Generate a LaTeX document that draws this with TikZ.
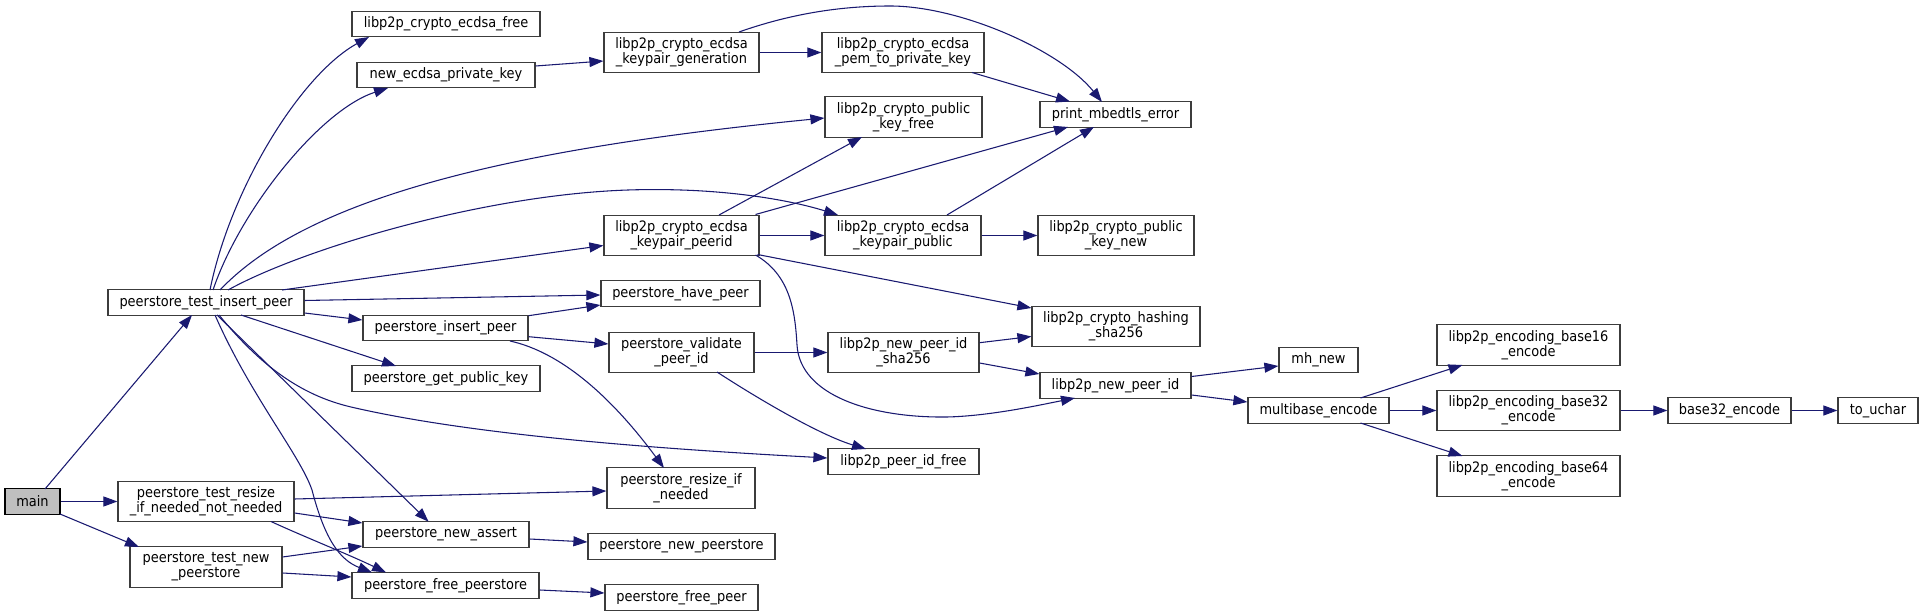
\documentclass[tikz,border=0pt]{standalone}
\usepackage{fontspec}
\setmainfont{DejaVu Sans Condensed}
\usetikzlibrary{arrows.meta,calc}
\definecolor{edgec}{HTML}{191970}
\definecolor{boxc}{HTML}{3C3C3C}
\definecolor{mainc}{HTML}{BFBFBF}
\begin{document}
\begin{tikzpicture}[x=0.75pt,y=-0.75pt,
  fn/.style={draw=boxc, line width=0.9pt, fill=white, inner sep=0pt, align=center,
    font=\fontsize{10.8}{11.25}\selectfont},
  one/.style={fn, minimum width=#1*0.75pt, minimum height=25.5*0.75pt},
  two/.style={fn, minimum width=#1*0.75pt, minimum height=40.5*0.75pt},
  call/.style={draw=edgec, line width=0.8pt, -{Triangle[length=10.5pt,width=7.5pt]}}]
\useasboundingbox (0,0) rectangle (1923,616);
% nodes
\node[one=55, fill=mainc, draw=black] (main) at (32.5,501.5) {main};
\node[one=196] (tip) at (206,302.5) {peerstore\_test\_insert\_peer};
\node[two=176] (tresize) at (206,501.5) {peerstore\_test\_resize\\\_if\_needed\_not\_needed};
\node[two=152] (tnewps) at (206,567) {peerstore\_test\_new\\\_peerstore};
\node[one=188] (efree) at (446,24) {libp2p\_crypto\_ecdsa\_free};
\node[one=178] (newkey) at (446,75) {new\_ecdsa\_private\_key};
\node[one=165] (insp) at (445.5,328) {peerstore\_insert\_peer};
\node[one=188] (getpk) at (446,378.5) {peerstore\_get\_public\_key};
\node[one=166] (nassert) at (446,534.5) {peerstore\_new\_assert};
\node[one=187] (fps) at (445.5,585.5) {peerstore\_free\_peerstore};
\node[two=155] (kpgen) at (681.5,52.5) {libp2p\_crypto\_ecdsa\\\_keypair\_generation};
\node[two=157] (pkfree) at (903.5,117) {libp2p\_crypto\_public\\\_key\_free};
\node[two=155] (kppeer) at (681.5,235.5) {libp2p\_crypto\_ecdsa\\\_keypair\_peerid};
\node[one=159] (have) at (680.5,293.5) {peerstore\_have\_peer};
\node[two=145] (valid) at (681.5,352.5) {peerstore\_validate\\\_peer\_id};
\node[two=148] (resize) at (681,488) {peerstore\_resize\_if\\\_needed};
\node[one=187] (newps) at (681.5,546.5) {peerstore\_new\_peerstore};
\node[one=153] (freepeer) at (681.5,597.5) {peerstore\_free\_peer};
\node[two=162] (pem) at (903,52.5) {libp2p\_crypto\_ecdsa\\\_pem\_to\_private\_key};
\node[two=156] (kppub) at (903,235.5) {libp2p\_crypto\_ecdsa\\\_keypair\_public};
\node[two=151] (sha) at (903.5,352.5) {libp2p\_new\_peer\_id\\\_sha256};
\node[one=151] (pidfree) at (903.5,461.5) {libp2p\_peer\_id\_free};
\node[one=151] (mbed) at (1115.5,114.5) {print\_mbedtls\_error};
\node[two=156] (pknew) at (1116,235.5) {libp2p\_crypto\_public\\\_key\_new};
\node[two=168] (hash) at (1116,326.5) {libp2p\_crypto\_hashing\\\_sha256};
\node[one=151] (npid) at (1115.5,385.5) {libp2p\_new\_peer\_id};
\node[one=79] (mh) at (1318.5,360) {mh\_new};
\node[one=141] (mb) at (1318.5,410.5) {multibase\_encode};
\node[two=183] (b16) at (1528.5,345) {libp2p\_encoding\_base16\\\_encode};
\node[two=183] (b32) at (1528.5,410.5) {libp2p\_encoding\_base32\\\_encode};
\node[two=183] (b64) at (1528.5,476) {libp2p\_encoding\_base64\\\_encode};
\node[one=123] (b32e) at (1729.5,410.5) {base32\_encode};
\node[one=80] (uchar) at (1878,410.5) {to\_uchar};
% edges
\draw[call] ($(main)+(12.5,-12.5)$) -- ($(tip)+(-14,12.5)$);
\draw[call] (main.east) -- (tresize.west);
\draw[call] ($(main)+(27.5,12.5)$) -- ($(tnewps)+(-67,-20)$);
\draw[call] ($(tip)+(4,-12.5)$) .. controls (230,190) and (300,75) .. ($(efree)+(-77,13)$);
\draw[call] ($(tip)+(7,-12.5)$) .. controls (240,210) and (320,110) .. ($(newkey)+(-58,13)$);
\draw[call] ($(tip)+(14,-12.5)$) .. controls (310,195) and (520,148) .. ($(pkfree.west)+(0,1)$);
\draw[call] ($(tip)+(22,-12.5)$) .. controls (300,250) and (480,195) .. (628,190) .. controls (720,187) and (790,200) .. ($(kppub)+(-65,-20.5)$);
\draw[call] ($(tip)+(76,-12.5)$) -- ($(kppeer.west)+(0,10)$);
\draw[call] ($(tip.east)+(0,-2)$) -- ($(have.west)+(0,1.5)$);
\draw[call] ($(tip.east)+(0,10.5)$) -- ($(insp.west)+(0,-8)$);
\draw[call] ($(tip)+(35,12.5)$) -- ($(getpk)+(-50,-12.5)$);
\draw[call] ($(tip)+(13,12.5)$) .. controls (260,365) and (300,395) .. (351,407) .. controls (480,437) and (680,450) .. ($(pidfree.west)+(0,-3.5)$);
\draw[call] ($(tip)+(11,12.5)$) -- ($(nassert)+(-17.4,-12.8)$);
\draw[call] ($(tip)+(9,12.5)$) .. controls (250,395) and (300,455) .. (312,490) .. controls (325,540) and (340,560) .. ($(fps)+(-73.5,-13)$);
\draw[call] ($(tresize)+(65,20)$) .. controls (300,535) and (350,555) .. ($(fps)+(-59.5,-13)$);
\draw[call] ($(tresize.east)+(0,-2.5)$) -- ($(resize.west)+(0,3)$);
\draw[call] ($(tresize.east)+(0,11.5)$) -- ($(nassert.west)+(0,-11.5)$);
\draw[call] ($(tnewps.east)+(0,-10)$) -- ($(nassert.west)+(0,11.5)$);
\draw[call] ($(tnewps.east)+(0,6)$) -- ($(fps.west)+(0,-8.5)$);
\draw[call] ($(nassert.east)+(0,4.5)$) -- ($(newps.west)+(0,-4.5)$);
\draw[call] ($(fps.east)+(0,4.5)$) -- ($(freepeer.west)+(0,-4.5)$);
\draw[call] ($(insp.east)+(0,-12.3)$) -- ($(have.west)+(0,11.5)$);
\draw[call] ($(insp.east)+(0,8.7)$) -- ($(valid.west)+(0,-8.5)$);
\draw[call] ($(insp)+(64.5,13)$) .. controls (560,352) and (610,395) .. ($(resize)+(-17,-20)$);
\draw[call] ($(newkey.east)+(0,-9)$) -- ($(kpgen.west)+(0,8.5)$);
\draw[call] (kpgen.east) -- (pem.west);
\draw[call] ($(kpgen)+(57.5,-20.5)$) .. controls (790,14) and (840,6) .. (890,6) .. controls (960,6) and (1060,50) .. ($(mbed)+(-13.5,-12.5)$);
\draw[call] ($(pem)+(69,20)$) -- ($(mbed)+(-45.5,-13)$);
\draw[call] ($(kppeer)+(37.5,-20.5)$) -- ($(pkfree)+(-41.5,20)$);
\draw[call] ($(kppeer)+(74,-21)$) -- ($(mbed)+(-47.5,12.5)$);
\draw[call] ($(kppub)+(44,-20.5)$) -- ($(mbed)+(-21.5,12.5)$);
\draw[call] (kppeer.east) -- (kppub.west);
\draw[call] (kppub.east) -- (pknew.west);
\draw[call] ($(kppeer)+(76,19)$) -- ($(hash.west)+(0,-18.5)$);
\draw[call] ($(kppeer)+(74,19.5)$) .. controls (790,275) and (795,310) .. (797,345) .. controls (800,395) and (870,418) .. (947,417) .. controls (990,416) and (1040,405) .. ($(npid)+(-40.5,12.5)$);
\draw[call] (valid.east) -- (sha.west);
\draw[call] ($(valid)+(35.5,19.5)$) .. controls (760,400) and (820,435) .. ($(pidfree)+(-37.5,-12.5)$);
\draw[call] ($(sha.east)+(0,-9.8)$) -- ($(hash.west)+(0,10)$);
\draw[call] ($(sha.east)+(0,10.5)$) -- ($(npid.west)+(0,-11.5)$);
\draw[call] ($(npid.east)+(0,-9)$) -- ($(mh.west)+(0,6)$);
\draw[call] ($(npid.east)+(0,9.5)$) -- ($(mb.west)+(0,-8.5)$);
\draw[call] ($(mb)+(42,-12.5)$) -- ($(b16)+(-66,20)$);
\draw[call] (mb.east) -- (b32.west);
\draw[call] ($(mb)+(42,12.5)$) -- ($(b64)+(-66,-20)$);
\draw[call] (b32.east) -- (b32e.west);
\draw[call] (b32e.east) -- (uchar.west);
\end{tikzpicture}
\end{document}
